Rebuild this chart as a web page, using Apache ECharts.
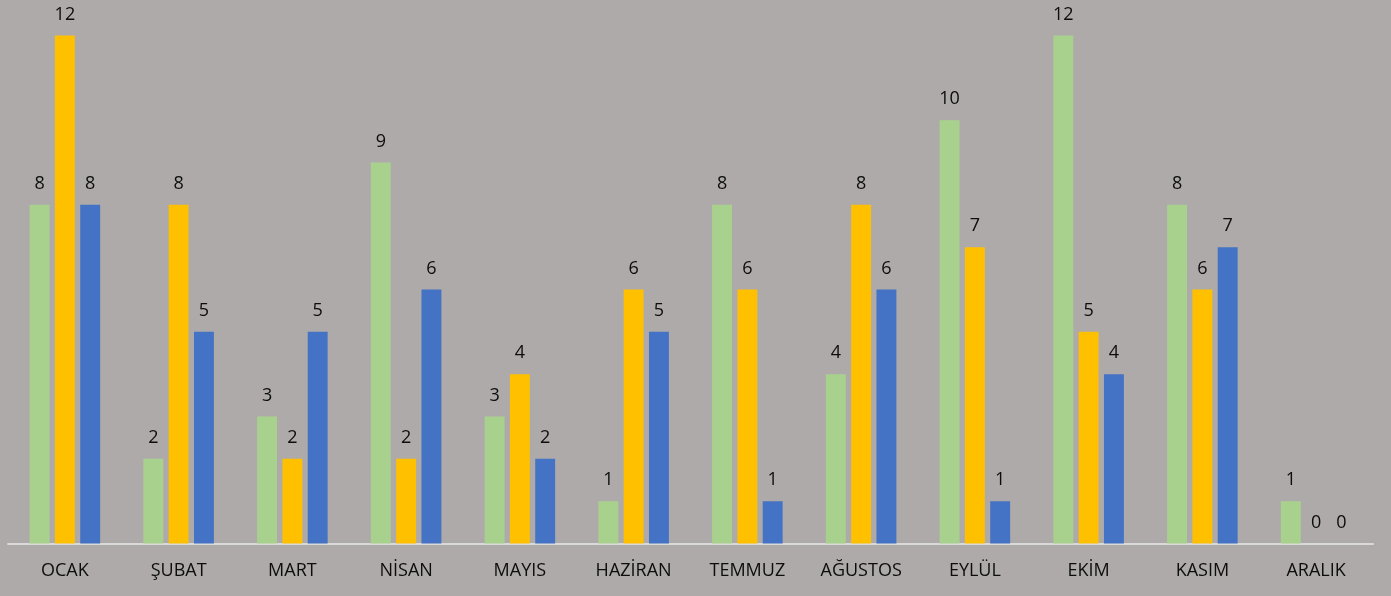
<!DOCTYPE html>
<html>
<head>
<meta charset="utf-8">
<script src="https://cdn.jsdelivr.net/npm/echarts@6/dist/echarts.min.js"></script>
<style>
html,body{margin:0;padding:0;background:#AEAAA9;}
#c{width:1391px;height:596px;}
</style>
</head>
<body>
<div id="c"></div>
<script>
const categories = ['OCAK','ŞUBAT','MART','NİSAN','MAYIS','HAZİRAN','TEMMUZ','AĞUSTOS','EYLÜL','EKİM','KASIM','ARALIK'];
const seriesGreen = [8,2,3,9,3,1,8,4,10,12,8,1];
const seriesOrange = [12,8,2,2,4,6,6,8,7,5,6,0];
const seriesBlue = [8,5,5,6,2,5,1,6,1,4,7,0];

const font = '"Open Sans", sans-serif';
const label = {show:true, position:'top', distance:12, color:'#0d0d0d', fontSize:18, fontFamily:font};
function mk(name, data, color){
  return {name, type:'bar', data, itemStyle:{color}, label, barGap:'27%', barCategoryGap:'38%'};
}
const chart = echarts.init(document.getElementById('c'));
chart.setOption({
  backgroundColor:'#AEAAA9',
  animation:false,
  grid:{left:8, right:18, top:35.5, bottom:52.5, containLabel:false},
  xAxis:{type:'category', data:categories,
    axisLine:{lineStyle:{color:'#D9D9D9', width:2}},
    axisTick:{show:false},
    axisLabel:{color:'#0d0d0d', fontSize:18, fontFamily:font, margin:18}
  },
  yAxis:{type:'value', min:0, max:12, show:false, splitLine:{show:false}},
  series:[mk('Seri 1', seriesGreen, '#A9D18E'), mk('Seri 2', seriesOrange, '#FFC000'), mk('Seri 3', seriesBlue, '#4472C4')]
});
</script>
</body>
</html>
